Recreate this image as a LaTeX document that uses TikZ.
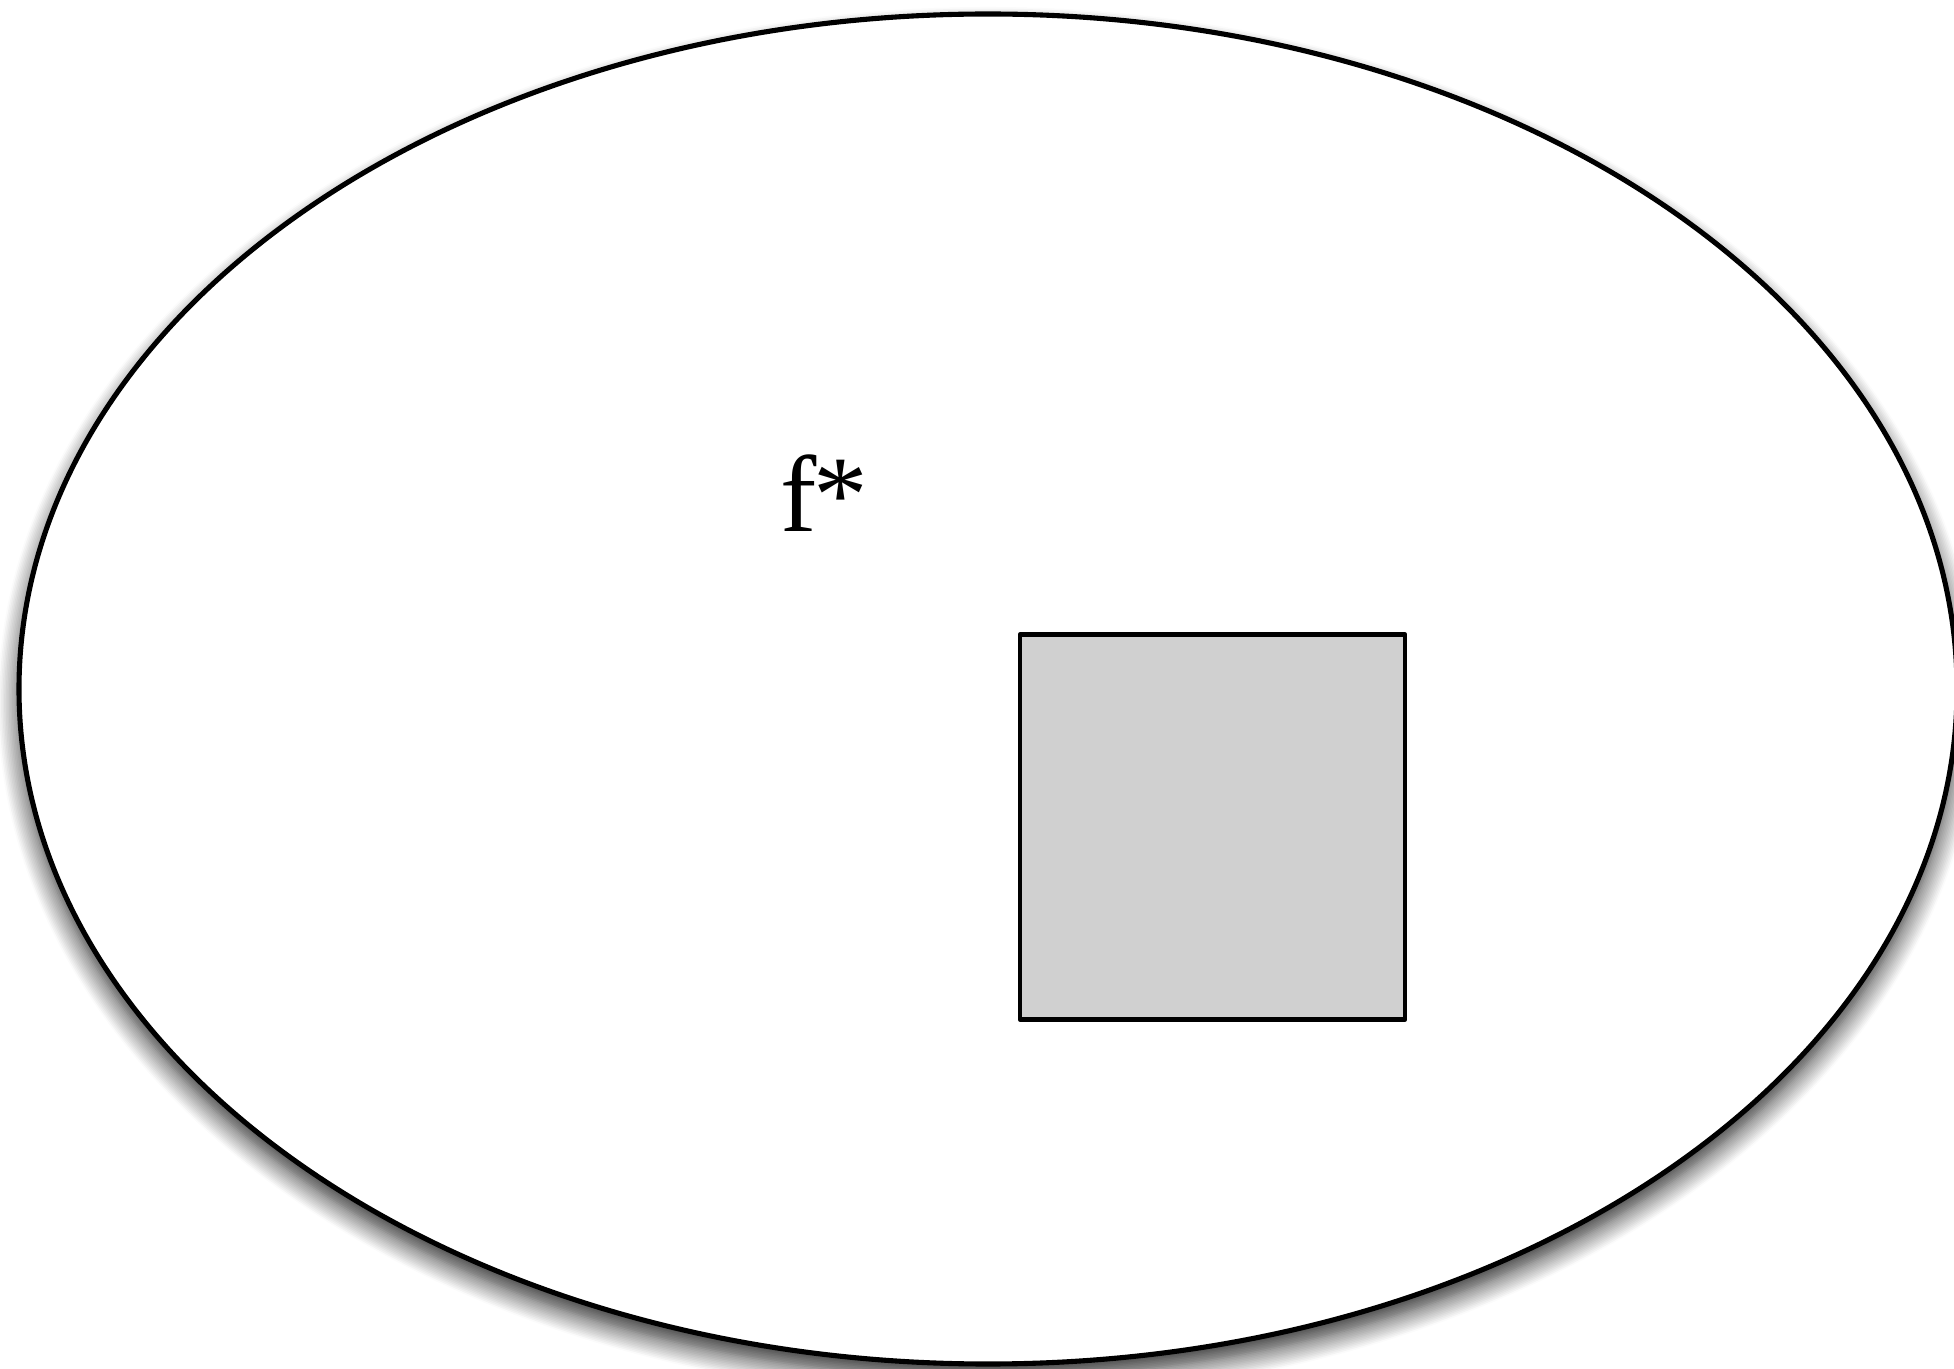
\documentclass[tikz,border=0pt]{standalone}
\usepackage{fontspec}
\setmainfont{Liberation Serif}
\usepackage{tikz}
\usetikzlibrary{
  shadows.blur,
}

\begin{document}
\begin{tikzpicture}[
  every node/.style={align=center},
  outline/.style={draw, line width=1.45pt, black},
  space/.style={outline, fill=white,
    blur shadow={shadow xshift=0pt, shadow yshift=-4pt,
      shadow blur radius=6pt, shadow blur steps=14, shadow opacity=85}},
  subset/.style={outline, line width=1.3pt, fill=black!18.5,
    minimum size=3.85cm, inner sep=0pt, line join=round},
]

\useasboundingbox (0,0) rectangle (19.54,-13.69);

%% The whole space
\draw[space] (9.88,-6.89) ellipse [x radius=9.69, y radius=6.75];

%% Label
\node[font=\fontsize{31}{38}\selectfont, anchor=base west, inner sep=0pt]
  (fstar) at (7.8,-5.32) {f\kern-1pt*};

%% Shaded region
\node[subset] (region) at (12.125,-8.27) {};

\end{tikzpicture}
\end{document}
